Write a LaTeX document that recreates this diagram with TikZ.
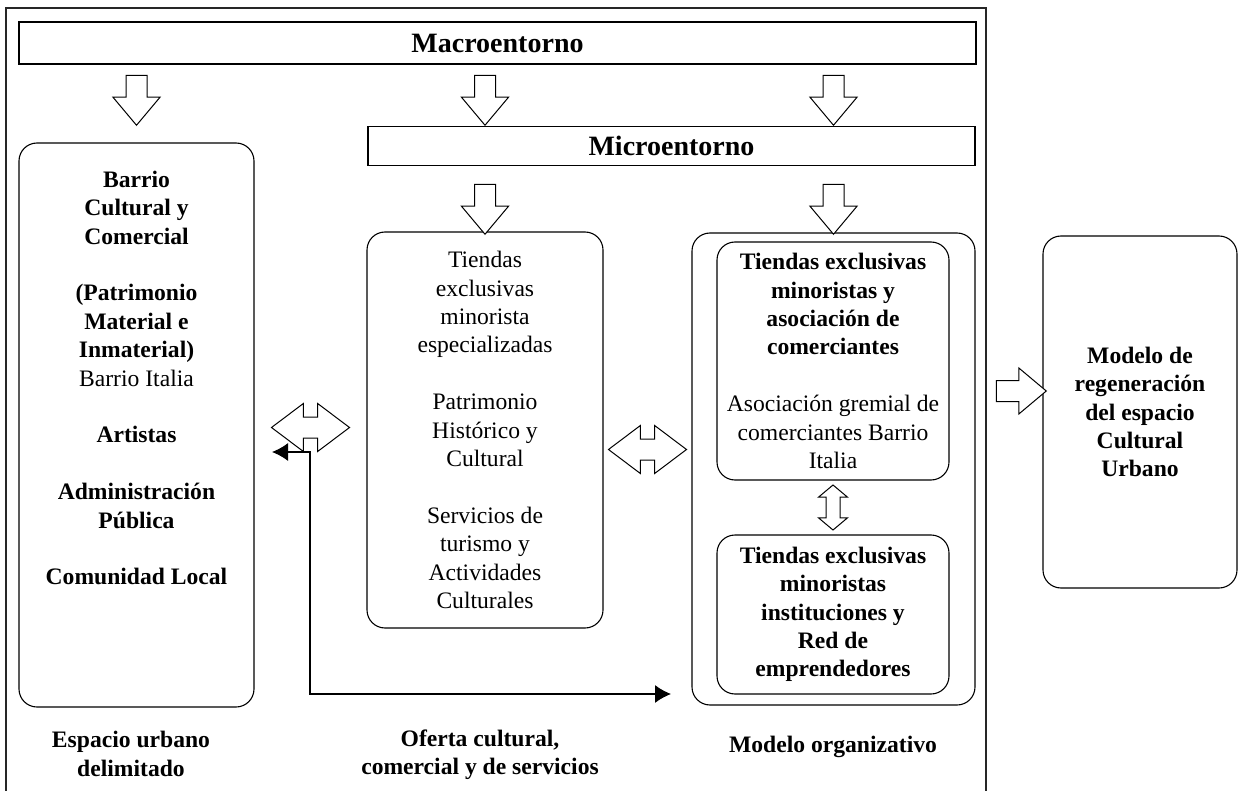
\documentclass[tikz,border=0pt]{standalone}
\usepackage{fontspec}
\setmainfont{Liberation Serif}
\usetikzlibrary{
  arrows.meta,
  calc,
  positioning,
  shapes.arrows,
}
\tikzstyle{bar} = [
  rectangle,
  draw,
  line width=1.1pt,
  inner sep=0pt,
  font=\fontsize{28}{32}\selectfont\bfseries,
]
\tikzstyle{panel} = [
  rectangle,
  draw,
  rounded corners=18pt,
  line width=1.1pt,
  align=center,
  inner sep=0pt,
  font=\fontsize{23.6}{28.4}\selectfont,
]
\tikzstyle{downarrow} = [
  single arrow,
  draw,
  fill=white,
  line width=1pt,
  rotate=-90,
  inner sep=0pt,
  text height=20pt,
  text depth=0pt,
  minimum height=50pt,
  single arrow head extend=13pt,
  single arrow tip angle=80,
]
\tikzstyle{twoway} = [
  double arrow,
  draw,
  fill=white,
  line width=1pt,
  inner sep=0pt,
  text height=20pt,
  text depth=0pt,
  minimum height=78pt,
  double arrow head extend=13.5pt,
  double arrow tip angle=74,
]
\tikzstyle{link} = [
  {Latex[length=16pt,width=18pt]}-{Latex[length=16pt,width=18pt]},
  line width=1.3pt,
]
\tikzstyle{caption} = [
  align=center,
  font=\fontsize{23.6}{28.4}\selectfont\bfseries,
]

\begin{document}
\begin{tikzpicture}[x=1pt,y=-1pt]
\useasboundingbox (0,0) rectangle (1239,791);
\draw[line width=1.2pt,black!85] (6,791) |- (986,8) -- (986,791);

\node[bar,minimum width=957pt,minimum height=42pt] (macro) at (497.5,43) {Macroentorno};
\node[bar,minimum width=607pt,minimum height=39pt] (micro) at (671.5,146) {Microentorno};

\node[panel,minimum width=235pt,minimum height=564pt] (lbox) at (136.5,425) {};
\node[panel,draw=none] (ltext) at (136.5,378) {\textbf{Barrio}\\\textbf{Cultural y}\\\textbf{Comercial}\\[28.4pt]\textbf{(Patrimonio}\\\textbf{Material e}\\\textbf{Inmaterial)}\\Barrio Italia\\[28.4pt]\textbf{Artistas}\\[28.4pt]\textbf{Administración}\\\textbf{Pública}\\[28.4pt]\textbf{Comunidad Local}};
\node[panel,minimum width=236pt,minimum height=396pt] (offer) at (485,430) {Tiendas\\exclusivas\\minorista\\especializadas\\[28.4pt]Patrimonio\\Histórico y\\Cultural\\[28.4pt]Servicios de\\turismo y\\Actividades\\Culturales};
\node[panel,minimum width=283pt,minimum height=472pt] (org) at (833.5,469) {};
\node[panel,minimum width=232pt,minimum height=238pt] (assoc) at (833,361) {\textbf{Tiendas exclusivas}\\\textbf{minoristas y}\\\textbf{asociación de}\\\textbf{comerciantes}\\[28.4pt]Asociación gremial de\\comerciantes Barrio\\Italia};
\node[panel,minimum width=232pt,minimum height=159pt] (network) at (833,614.5) {\textbf{Tiendas exclusivas}\\\textbf{minoristas}\\\textbf{instituciones y}\\\textbf{Red de}\\\textbf{emprendedores}};
\node[panel,minimum width=194pt,minimum height=352pt] (regen) at (1140,412) {\textbf{Modelo de}\\\textbf{regeneración}\\\textbf{del espacio}\\\textbf{Cultural}\\\textbf{Urbano}};

\node[downarrow] (down1) at (lbox.north |- 0,94) {};
\node[downarrow] (down2) at (offer.north |- 0,94) {};
\node[downarrow] (down3) at (org.north |- 0,94) {};
\node[downarrow] (down4) at (offer.north |- 0,203) {};
\node[downarrow] (down5) at (org.north |- 0,203) {};

\node[twoway] (both1) at ($(lbox.east)!0.5!(offer.west)$ |- 0,303) {};
\node[twoway] (both2) at ($(offer.east)!0.5!(org.west)$ |- 0,303) {};
\node[twoway,rotate=90,minimum height=45pt,text height=13pt,double arrow head extend=7.5pt,double arrow tip angle=100] (both3) at ($(assoc.south)!0.5!(network.north)$) {};
\node[downarrow,rotate=90,single arrow head extend=12.5pt] (toregen) at (1015,391) {};

\coordinate (lend) at (272,452);
\coordinate (bend) at (310,694);
\coordinate (rend) at (671,694);
\draw[link] (lend) -| (bend) -- (rend);

\node[caption] (cap1) at (131,754) {Espacio urbano\\delimitado};
\node[caption] (cap2) at (480,755) {Oferta cultural,\\comercial y de servicios};
\node[caption] (cap3) at (833,747) {Modelo organizativo};
\end{tikzpicture}
\end{document}
